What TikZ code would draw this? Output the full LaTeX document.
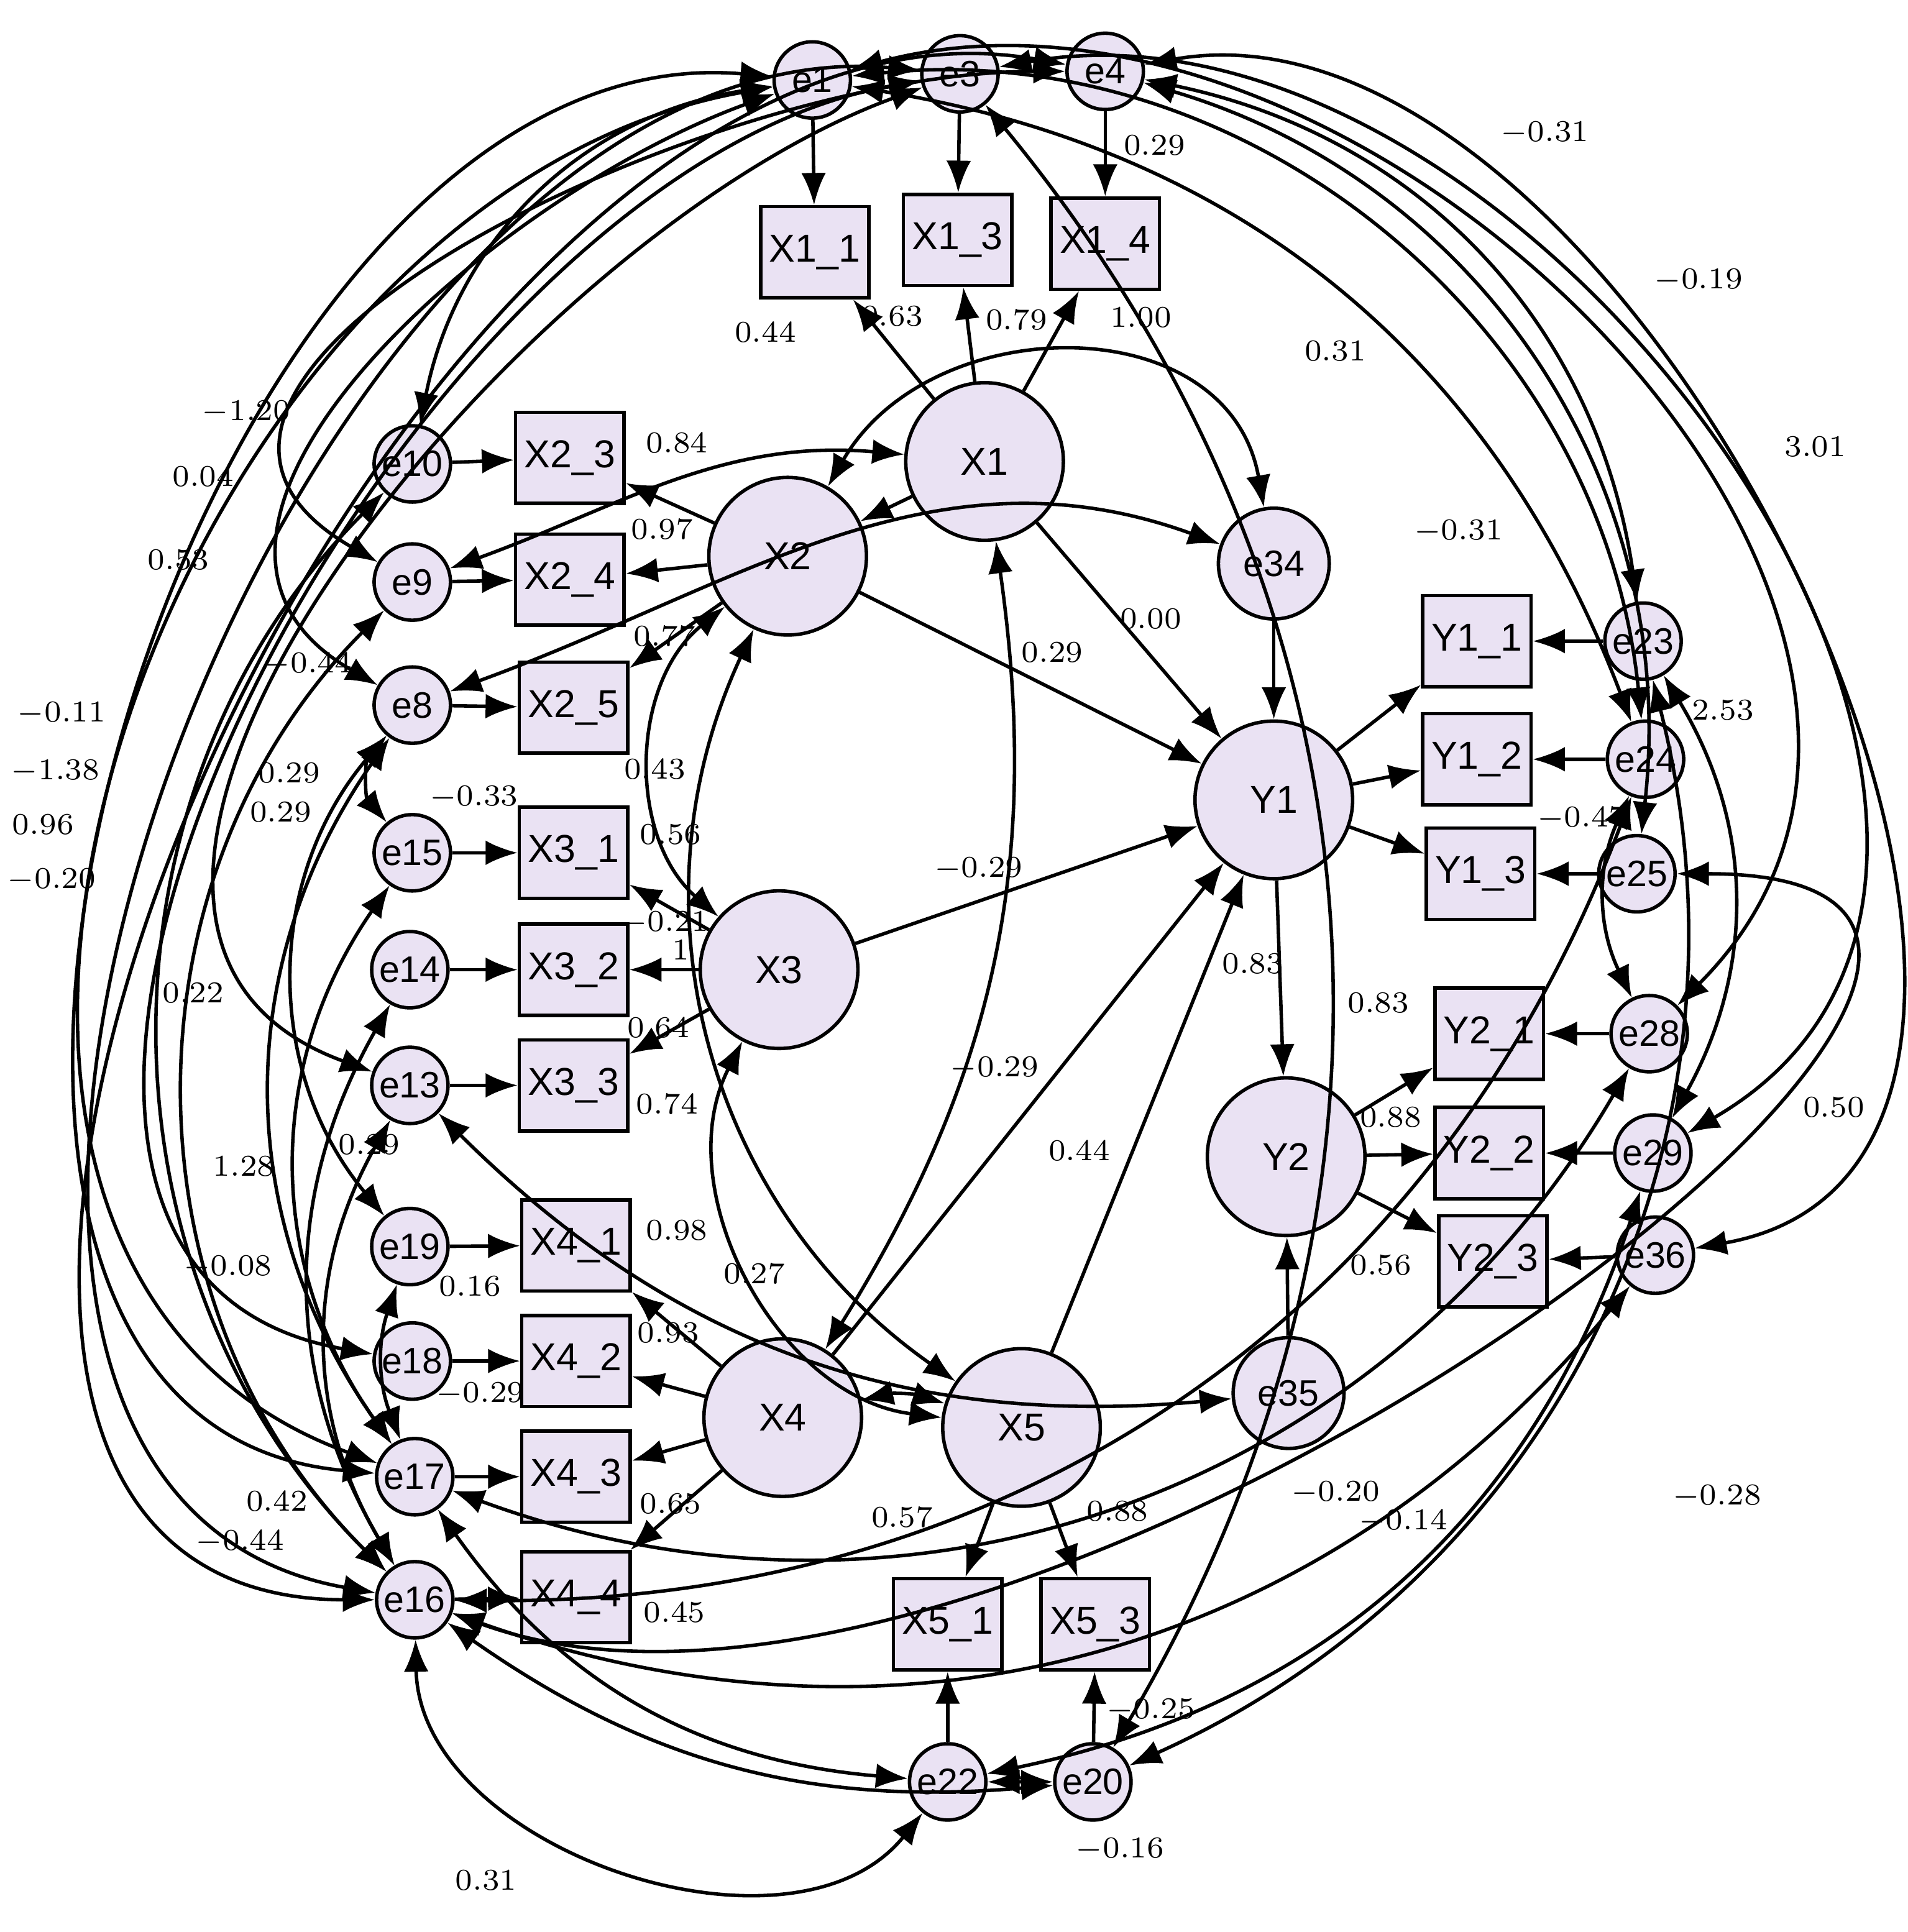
\documentclass[tikz,border=0pt]{standalone}
\usepackage{fontspec}
\newfontfamily\nodefont{Liberation Sans}
\usetikzlibrary{arrows.meta,positioning}
\definecolor{lav}{RGB}{234,226,243}
\tikzset{
  err/.style={circle,draw,thick,fill=lav,minimum size=0.62cm,inner sep=0pt,font=\nodefont\fontsize{8.5}{8.5}\selectfont},
  lat/.style={circle,draw,thick,fill=lav,minimum size=1.28cm,inner sep=0pt,font=\nodefont\fontsize{9}{9}\selectfont},
  ind/.style={rectangle,draw,thick,fill=lav,minimum width=0.88cm,minimum height=0.74cm,inner sep=0pt,font=\nodefont\fontsize{9}{9}\selectfont},
  pth/.style={-{Latex[length=2.6mm,width=2mm]},thick},
  cov/.style={{Latex[length=2.6mm,width=2mm]}-{Latex[length=2.6mm,width=2mm]},thick},
  lbl/.style={font=\fontsize{7}{7}\selectfont,inner sep=1pt}
}
\begin{document}
\begin{tikzpicture}[x=0.01cm,y=-0.01cm]
    \useasboundingbox (0,0) rectangle (1550,1570);

    % latent variables
    \node[lat] (X1) at (800,375) {X1};
    \node[lat] (X2) at (640,452) {X2};
    \node[lat] (X3) at (633,788) {X3};
    \node[lat] (X4) at (636,1152) {X4};
    \node[lat] (X5) at (830,1160) {X5};
    \node[lat] (Y1) at (1035,650) {Y1};
    \node[lat] (Y2) at (1045,940) {Y2};
    \node[err,minimum size=0.9cm] (e34) at (1035,458) {e34};
    \node[err,minimum size=0.9cm] (e35) at (1047,1132) {e35};

    % indicators and errors
    \foreach \nm/\x/\y in {X1_1/662/205,X1_3/778/195,X1_4/898/198,
      X2_3/463/372,X2_4/463/471,X2_5/466/575,X3_1/466/693,X3_2/466/788,X3_3/466/882,
      X4_1/468/1012,X4_2/468/1106,X4_3/468/1200,X4_4/468/1298,
      Y1_1/1200/521,Y1_2/1200/617,Y1_3/1203/710,Y2_1/1210/840,Y2_2/1210/937,Y2_3/1213/1025,
      X5_1/770/1320,X5_3/890/1320}
      \node[ind] (\nm) at (\x,\y) {\expandafter\detokenize\expandafter{\nm}};
    \foreach \nm/\x/\y in {e1/660/65,e3/780/60,e4/898/58,e10/335/377,e9/335/473,e8/335/573,
      e15/335/693,e14/333/788,e13/333/882,e19/333/1013,e18/335/1106,e17/337/1200,e16/337/1300,
      e23/1335/521,e24/1337/617,e25/1330/710,e28/1340/840,e29/1343/937,e36/1345/1020,
      e22/770/1448,e20/888/1448}
      \node[err] (\nm) at (\x,\y) {\nm};

    % error paths
    \foreach \a/\b in {e1/X1_1,e3/X1_3,e4/X1_4,e10/X2_3,e9/X2_4,e8/X2_5,e15/X3_1,e14/X3_2,
      e13/X3_3,e19/X4_1,e18/X4_2,e17/X4_3,e16/X4_4,e23/Y1_1,e24/Y1_2,e25/Y1_3,e28/Y2_1,
      e29/Y2_2,e36/Y2_3,e22/X5_1,e20/X5_3,e34/Y1,e35/Y2}
      \draw[pth] (\a) -- (\b);

    % loadings
    \foreach \a/\b in {X1/X1_1,X1/X1_3,X1/X1_4,X2/X2_3,X2/X2_4,X2/X2_5,X3/X3_1,X3/X3_2,X3/X3_3,
      X4/X4_1,X4/X4_2,X4/X4_3,X4/X4_4,X5/X5_1,X5/X5_3,Y1/Y1_1,Y1/Y1_2,Y1/Y1_3,
      Y2/Y2_1,Y2/Y2_2,Y2/Y2_3,X1/Y1,X2/Y1,X3/Y1,X4/Y1,X5/Y1,Y1/Y2,X1/X2}
      \draw[pth] (\a) -- (\b);

    % latent covariances
    \draw[cov] (X2) to[bend right=50] (X3);
    \draw[cov] (X3) to[bend right=55] (X5);
    \draw[cov] (X4) to[bend right=20] (X1);
    \draw[cov] (X2) to[out=60,in=100,looseness=1.2] (e34);
    \draw[cov] (e8) to[out=20,in=160] (e34);
    \draw[cov] (X4) to[bend left=15] (X5);
    \draw[cov] (X2) to[bend right=40] (X5);
    \draw[cov] (e13) to[bend right=25] (e35);
    \draw[cov] (e9) to[out=20,in=175] (X1);

    % error covariances
    \draw[cov] (e1) to[bend right=35] (e10);
    \draw[cov] (e1) to[out=200,in=150,looseness=1.1] (e8);
    \draw[cov] (e1) to[out=190,in=160,looseness=1.1] (e17);
    \draw[cov] (e3) to[out=175,in=170,looseness=1.0] (e16);
    \draw[cov] (e3) to[out=200,in=160] (e13);
    \draw[cov] (e3) to[out=190,in=170,looseness=1.0] (e18);
    \draw[cov] (e4) to[out=180,in=150,looseness=1.1] (e9);
    \draw[cov] (e4) to[out=170,in=180,looseness=1.05] (e16);
    \draw[cov] (e1) to[out=175,in=175,looseness=1.05] (e17);
    \draw[cov] (e3) to[bend left=35] (e20);
    \draw[cov] (e1) to[bend left=45] (e24);
    \draw[cov] (e1) to[out=15,in=45,looseness=1.1] (e28);
    \draw[cov] (e3) to[out=10,in=30,looseness=1.1] (e29);
    \draw[cov] (e4) to[out=10,in=10,looseness=1.0] (e36);
    \draw[cov] (e4) to[bend left=35] (e23);
    \draw[cov] (e4) to[bend left=40] (e25);
    \draw[cov] (e1) to[bend left=30] (e24);
    \draw[cov] (e8) to[bend right=40] (e15);
    \draw[cov] (e8) to[bend right=35] (e17);
    \draw[cov] (e9) to[bend right=45] (e16);
    \draw[cov] (e10) to[bend right=45] (e16);
    \draw[cov] (e8) to[bend right=40] (e19);
    \draw[cov] (e15) to[bend right=35] (e17);
    \draw[cov] (e14) to[bend right=30] (e16);
    \draw[cov] (e13) to[bend right=30] (e16);
    \draw[cov] (e19) to[bend right=20] (e17);
    \draw[cov] (e23) to[bend left=30] (e29);
    \draw[cov] (e24) to[bend left=35] (e16);
    \draw[cov] (e25) to[out=0,in=-20,looseness=1.1] (e16);
    \draw[cov] (e28) to[bend left=40] (e17);
    \draw[cov] (e29) to[bend left=30] (e22);
    \draw[cov] (e36) to[bend left=35] (e16);
    \draw[cov] (e23) to[bend left=40] (e20);
    \draw[cov] (e20) to (e22);
    \draw[cov] (e16) to[bend right=20] (e20);
    \draw[cov] (e17) to[bend right=25] (e22);
    \draw[cov] (e16) to[bend right=70] (e22);
    \draw[cov] (e24) to[bend right=25] (e28);

    % estimates
    \foreach \x/\y/\t in {938/118/0.29,1255/108/$-$0.31,1380/228/$-$0.19,1085/285/0.31,
      1475/363/3.01,1185/432/$-$0.31,1400/577/2.53,1285/665/$-$0.47,1490/900/0.50,
      1395/1216/$-$0.28,1085/1213/$-$0.20,1140/1236/$-$0.14,935/1390/$-$0.25,910/1503/$-$0.16,
      395/1528/0.31,195/1253/$-$0.44,225/1220/0.42,185/1030/$-$0.08,198/948/1.28,
      157/807/0.22,42/715/$-$0.20,35/670/0.96,45/627/$-$1.38,50/580/$-$0.11,145/455/0.53,
      165/387/0.04,200/335/$-$1.20,250/540/$-$0.44,235/628/0.29,228/660/0.29,
      385/648/$-$0.33,300/930/0.29,382/1045/0.16,390/1133/$-$0.29,622/270/0.44,
      725/257/0.63,826/260/0.79,927/258/1.00,550/360/0.84,538/430/0.97,540/517/0.77,
      532/625/0.43,545/678/0.56,540/750/$-$0.21,553/772/1,535/835/0.64,542/897/0.74,
      550/1000/0.98,543/1083/0.93,545/1222/0.65,548/1310/0.45,613/1035/0.27,733/1233/0.57,
      908/1228/0.88,935/503/0.00,855/530/0.29,795/706/$-$0.29,808/868/$-$0.29,
      877/935/0.44,1018/783/0.83,1120/815/0.83,1130/908/0.88,1122/1028/0.56}
      \node[lbl] at (\x,\y) {\t};
\end{tikzpicture}
\end{document}
